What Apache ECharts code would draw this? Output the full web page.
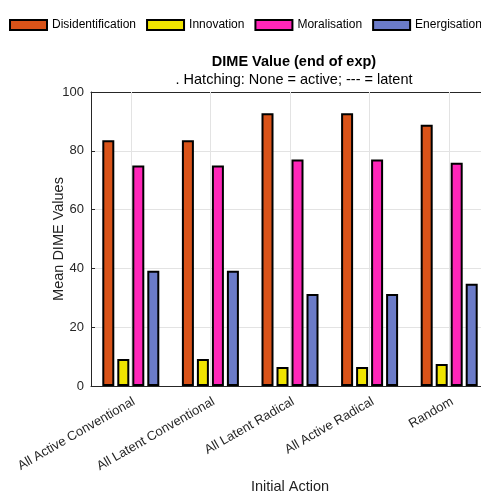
<!DOCTYPE html>
<html><head><meta charset="utf-8">
<script src="https://cdn.jsdelivr.net/npm/echarts@6/dist/echarts.min.js"></script>
<style>html,body{margin:0;padding:0;background:#fff}#c{width:481px;height:493px}</style>
</head><body><div id="c"></div>
<script>
var categories = ['All Active Conventional','All Latent Conventional','All Latent Radical','All Active Radical','Random'];
var seriesNames = ['Disidentification','Innovation','Moralisation','Energisation'];
var disidentification = [83.6, 83.6, 92.8, 92.8, 88.9];
var innovation = [9.2, 9.2, 6.5, 6.5, 7.5];
var moralisation = [75.0, 75.0, 77.0, 77.0, 75.9];
var energisation = [39.2, 39.2, 31.3, 31.3, 34.8];
var colors = ['#d95319','#f0e400','#ff26b9','#6b7bc8'];
var yTicks = [0,20,40,60,80,100];

var values = [disidentification, innovation, moralisation, energisation];
var font = 'Liberation Sans, Arial, sans-serif';
var chart = echarts.init(document.getElementById('c'));
var series = seriesNames.map(function(n,i){
  return {name:n, type:'bar', data:values[i], xAxisIndex:0, z:3,
    barWidth:12, barGap:'25%',
    itemStyle:{color:colors[i], borderColor:'#000', borderWidth:2}};
});
// vertical grid lines at category centres
series.push({
  name:'_grid', type:'line', data:[], xAxisIndex:0, z:1, silent:true,
  markLine:{silent:true, symbol:'none', label:{show:false},
    lineStyle:{color:'#e3e3e3', type:'solid', width:1},
    data: categories.map(function(c){return {xAxis:c};})}
});
chart.setOption({
  animation:false,
  color: colors,
  textStyle:{fontFamily:font},
  title:{
    text:'DIME Value (end of exp)',
    subtext:'. Hatching: None = active; --- = latent',
    left:289, top:49, textAlign:'center',
    itemGap:3,
    textStyle:{fontSize:14.5, fontWeight:'bold', color:'#000', fontFamily:font},
    subtextStyle:{fontSize:14.5, color:'#000', fontFamily:font}
  },
  legend:{
    left:9, top:19, width:800, padding:0, itemWidth:37, itemHeight:10, itemGap:10,
    icon:'rect',
    textStyle:{fontSize:12, color:'#000', fontFamily:font, padding:[0,0,0,0]},
    itemStyle:{borderColor:'#000', borderWidth:2},
    data: seriesNames
  },
  grid:{left:91, width:398, top:92, bottom:107, outerBoundsMode:'none', containLabel:false},
  xAxis:[{
    type:'category', data:categories, position:'bottom',
    name:'Initial Action', nameLocation:'middle', nameGap:89,
    nameTextStyle:{fontSize:14.5, color:'#222', fontFamily:font},
    axisLine:{show:true, lineStyle:{color:'#262626', width:1}},
    axisTick:{show:true, inside:true, alignWithLabel:true, length:4, lineStyle:{color:'#262626'}},
    axisLabel:{rotate:30, fontSize:13, color:'#262626', fontFamily:font, margin:9, verticalAlign:'top'},
    splitLine:{show:false},
    boundaryGap:true
  },{
    type:'category', data:categories, position:'top',
    axisLine:{show:true, lineStyle:{color:'#262626', width:1}},
    axisTick:{show:true, inside:true, alignWithLabel:true, length:4, lineStyle:{color:'#262626'}},
    axisLabel:{show:false}, splitLine:{show:false}
  }],
  yAxis:{
    type:'value', min:0, max:100, interval:20,
    name:'Mean DIME Values', nameLocation:'middle', nameGap:25, nameRotate:90, nameMoveOverlap:false,
    nameTextStyle:{fontSize:14.5, color:'#222', fontFamily:font},
    axisLine:{show:true, lineStyle:{color:'#262626', width:1}},
    axisTick:{show:true, inside:true, length:4, lineStyle:{color:'#262626'}},
    axisLabel:{fontSize:13, color:'#262626', fontFamily:font, margin:7,
      formatter:function(v){return yTicks.indexOf(v)>=0?String(v):'';}},
    splitLine:{show:true, lineStyle:{color:'#e3e3e3'}}
  },
  series: series
});
</script></body></html>
